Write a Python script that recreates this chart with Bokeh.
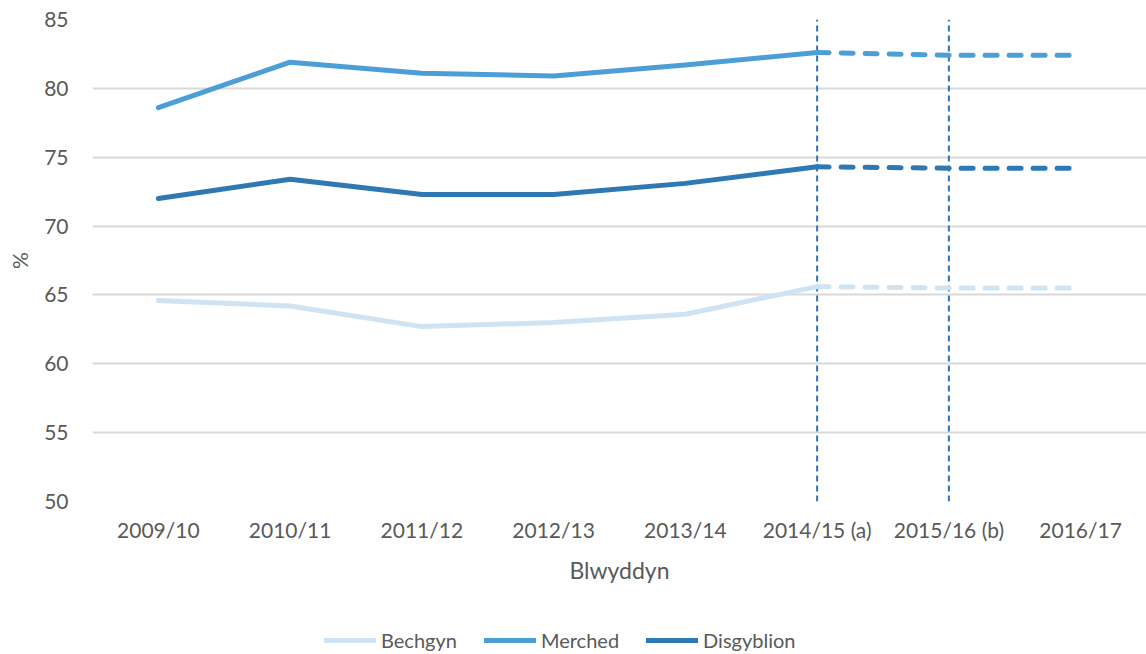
from bokeh.plotting import figure
from bokeh.models import Legend, LegendItem, FixedTicker, Range1d
from bokeh.layouts import column
from bokeh.embed import file_html
from bokeh.resources import INLINE

years = ["2009/10", "2010/11", "2011/12", "2012/13", "2013/14",
         "2014/15 (a)", "2015/16 (b)", "2016/17"]
bechgyn = [64.6, 64.2, 62.7, 63.0, 63.6, 65.6, 65.5, 65.5]
merched = [78.6, 81.9, 81.1, 80.9, 81.7, 82.6, 82.4, 82.4]
disgyblion = [72.0, 73.4, 72.3, 72.3, 73.1, 74.3, 74.2, 74.2]
series_names = ["Bechgyn", "Merched", "Disgyblion"]
colors = ["#cfe3f2", "#4b9fd6", "#2e78b3"]
break_years = ["2014/15 (a)", "2015/16 (b)"]
y_ticks = [50, 55, 60, 65, 70, 75, 80, 85]

FONT = "Lato"
GREY = "#595959"
W = 1146

p = figure(x_range=years, y_range=Range1d(50, 85), width=W, height=626,
           output_backend="svg", toolbar_location=None,
           min_border_left=92, min_border_right=0, min_border_top=19,
           min_border_bottom=125)
p.outline_line_color = None

# vertical break markers
p.segment(x0=break_years, x1=break_years, y0=[50, 50], y1=[85, 85],
          line_color="#2e75b6", line_width=2, line_dash="6 4")

split = 5
for name, vals, col in zip(series_names, [bechgyn, merched, disgyblion], colors):
    p.line(years[:split + 1], vals[:split + 1], line_color=col, line_width=5,
           line_cap="round", line_join="round")
    p.line(years[split:], vals[split:], line_color=col, line_width=5,
           line_cap="round", line_dash="12 12")

p.yaxis.ticker = FixedTicker(ticks=y_ticks)
p.ygrid.grid_line_color = "#d9d9d9"
p.ygrid.grid_line_width = 2
p.xgrid.grid_line_color = None

for ax in (p.xaxis[0], p.yaxis[0]):
    ax.axis_line_color = None
    ax.major_tick_line_color = None
    ax.minor_tick_line_color = None
    ax.major_tick_out = 0
    ax.major_tick_in = 0
    ax.major_label_text_font = FONT
    ax.major_label_text_color = GREY
    ax.major_label_text_font_size = "21px"
    ax.axis_label_text_font = FONT
    ax.axis_label_text_color = GREY
    ax.axis_label_text_font_style = "normal"

p.yaxis.major_label_standoff = 24
p.yaxis.axis_label = "%"
p.yaxis.axis_label_text_font_size = "21px"
p.yaxis.axis_label_standoff = 9
p.xaxis.major_label_standoff = 15
p.xaxis.axis_label = "Blwyddyn"
p.xaxis.axis_label_text_font_size = "23px"
p.xaxis.axis_label_standoff = 11

# legend strip
lg = figure(width=W, height=28, output_backend="svg", toolbar_location=None,
            x_range=Range1d(0, 1), y_range=Range1d(0, 1),
            min_border=0, outline_line_color=None)
lg.axis.visible = False
lg.grid.visible = False
items = []
for name, col in zip(series_names, colors):
    r = lg.line([-5, -4], [-5, -4], line_color=col, line_width=5, line_cap="round")
    items.append(LegendItem(label=name, renderers=[r]))
legend = Legend(items=items, orientation="horizontal", location=(232, 2),
                glyph_width=52, glyph_height=20, label_standoff=5, spacing=27,
                label_text_font=FONT, label_text_font_size="20px",
                label_text_color=GREY, background_fill_alpha=0,
                border_line_color=None, padding=0, margin=0)
lg.add_layout(legend, "center")

layout = column(p, lg, spacing=0)
open("out.html", "w").write(file_html(layout, INLINE))
